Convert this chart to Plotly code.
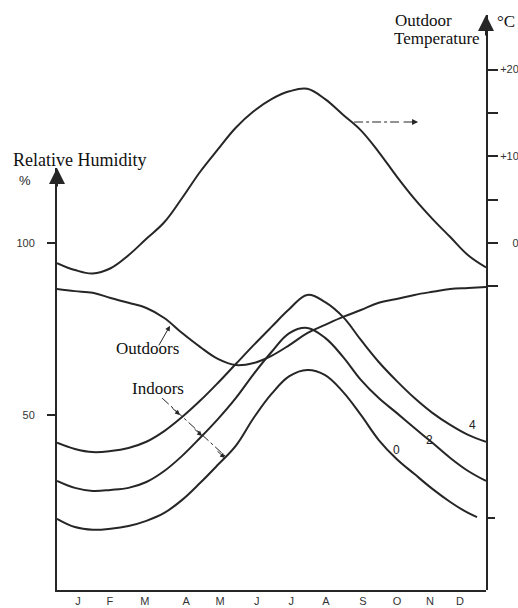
import plotly.graph_objects as go

# ---------------- data ----------------
month_labels = ["J", "F", "M", "A", "M", "J", "J", "A", "S", "O", "N", "D"]
month_pos = [0.59, 1.48, 2.46, 3.61, 4.56, 5.59, 6.55, 7.52, 8.56, 9.51, 10.43, 11.27]

x_half = [i * 0.5 for i in range(25)]  # 0 .. 12 months

temp_outdoor = [-2.3, -3.1, -3.5, -2.9, -1.4, 0.5, 2.4, 5.2, 8.2, 10.8, 13.3, 15.2, 16.6,
                17.5, 17.8, 16.6, 14.8, 13.0, 10.5, 7.7, 5.1, 2.8, 0.7, -1.4, -2.8]

rh_outdoors = [86.6, 86.0, 85.5, 84.0, 82.6, 81.1, 78.2, 73.8, 69.8, 66.3, 64.5, 65.1, 67.2,
               70.3, 73.8, 76.2, 78.5, 80.5, 82.6, 83.7, 84.9, 85.8, 86.6, 86.9, 87.2]

rh_indoor_4 = [41.9, 40.1, 39.2, 39.5, 40.4, 42.2, 45.3, 49.4, 54.1, 59.3, 64.8, 70.3, 75.6,
               80.8, 84.9, 82.8, 78.5, 71.8, 65.4, 59.9, 54.9, 50.6, 47.1, 44.2, 42.2]

rh_indoor_2 = [30.8, 28.8, 27.9, 28.2, 28.8, 30.5, 33.7, 38.1, 43.3, 48.8, 54.9, 61.9, 68.3,
               73.8, 75.3, 72.4, 66.9, 60.2, 54.9, 50.6, 46.2, 41.9, 37.5, 33.7, 30.8]

x_indoor_0 = [i * 0.5 for i in range(24)] + [11.75]
rh_indoor_0 = [19.8, 17.4, 16.6, 16.9, 17.7, 19.2, 21.5, 25.3, 30.2, 35.5, 41.0, 49.1, 56.1,
               61.3, 63.1, 61.6, 56.7, 50.0, 42.7, 37.2, 32.8, 28.5, 24.7, 21.5, 20.3]

rh_ticks = [50, 100]
temp_ticks = [20, 15, 10, 5, 0, -5]
temp_tick_text = ["+20", "", "+10", "", "\u2007\u20070", ""]

curve_labels = ["4", "2", "0"]

INK = "#262626"
SERIF = "Liberation Serif, Times New Roman, serif"
SANS = "Liberation Sans, Arial, sans-serif"
CLEAR = "rgba(0,0,0,0)"

fig = go.Figure()

line_style = dict(color=INK, width=2, shape="spline", smoothing=1.1)

fig.add_trace(go.Scatter(x=x_half, y=temp_outdoor, yaxis="y2", mode="lines",
                         line=line_style, hoverinfo="skip"))
fig.add_trace(go.Scatter(x=x_half, y=rh_outdoors, mode="lines", line=line_style, hoverinfo="skip"))
fig.add_trace(go.Scatter(x=x_half, y=rh_indoor_4, mode="lines", line=line_style, hoverinfo="skip"))
fig.add_trace(go.Scatter(x=x_half, y=rh_indoor_2, mode="lines", line=line_style, hoverinfo="skip"))
fig.add_trace(go.Scatter(x=x_indoor_0, y=rh_indoor_0, mode="lines", line=line_style, hoverinfo="skip"))

ann = []
# axis arrow heads
ann.append(dict(x=0, y=121.8, xref="x", yref="y", ax=0, ay=20, showarrow=True, text="",
                arrowhead=2, arrowsize=1.6, arrowwidth=2, arrowcolor=INK))
ann.append(dict(x=12, y=26.3, xref="x", yref="y2", ax=0, ay=22, showarrow=True, text="",
                arrowhead=2, arrowsize=1.6, arrowwidth=2, arrowcolor=INK))

# titles
ann.append(dict(text="Relative Humidity", x=-0.107, y=0.748, xref="paper", yref="paper",
                xanchor="left", yanchor="middle", showarrow=False,
                font=dict(family=SERIF, size=18, color="#111")))
ann.append(dict(text="%", x=-0.0746, y=0.713, xref="paper", yref="paper",
                xanchor="center", yanchor="middle", showarrow=False,
                font=dict(family=SANS, size=13, color="#222")))
ann.append(dict(text="Outdoor", x=0.783, y=0.991, xref="paper", yref="paper",
                xanchor="left", yanchor="middle", showarrow=False,
                font=dict(family=SERIF, size=17, color="#111")))
ann.append(dict(text="Temperature", x=0.781, y=0.96, xref="paper", yref="paper",
                xanchor="left", yanchor="middle", showarrow=False,
                font=dict(family=SERIF, size=17, color="#111")))
ann.append(dict(text="°C", x=1.022, y=0.988, xref="paper", yref="paper",
                xanchor="left", yanchor="middle", showarrow=False,
                font=dict(family=SERIF, size=17, color="#111")))

# in-plot labels
ann.append(dict(text="Outdoors", x=2.52, y=69.2, xref="x", yref="y", showarrow=False,
                font=dict(family=SERIF, size=17, color="#111")))
ann.append(dict(text="Indoors", x=2.83, y=57.8, xref="x", yref="y", showarrow=False,
                font=dict(family=SERIF, size=17, color="#111")))
ann.append(dict(x=3.16, y=75.9, xref="x", yref="y", ax=-12, ay=21, showarrow=True, text="",
                arrowhead=2, arrowsize=1, arrowwidth=1, arrowcolor=INK))
for xx, yy in [(3.44, 50.0), (4.06, 43.9), (4.70, 37.5)]:
    ann.append(dict(x=xx, y=yy, xref="x", yref="y", ax=-9, ay=-8, showarrow=True, text="",
                    arrowhead=2, arrowsize=1, arrowwidth=1, arrowcolor=INK))
ann.append(dict(x=10.10, y=13.96, xref="x", yref="y2", ax=-16, ay=0, showarrow=True, text="",
                arrowhead=2, arrowsize=1, arrowwidth=1.2, arrowcolor=INK))

for lab, xx, yy in zip(curve_labels, [11.61, 10.43, 9.51], [47.1, 42.7, 39.8]):
    ann.append(dict(text=lab, x=xx, y=yy, xref="x", yref="y", showarrow=False,
                    font=dict(family=SANS, size=12, color="#222")))

shapes = [
    dict(type="line", xref="x", yref="y2", x0=8.31, x1=9.59, y0=13.96, y1=13.96,
         line=dict(color=INK, width=1.2, dash="dashdot")),
    dict(type="line", xref="x", yref="y", x0=2.94, y0=54.9, x1=4.73, y1=37.8,
         line=dict(color=INK, width=1, dash="dashdot")),
]

fig.update_layout(
    width=518, height=608, template="none",
    margin=dict(l=57, r=32, t=15, b=18, pad=0),
    paper_bgcolor="white", plot_bgcolor=CLEAR,
    showlegend=False,
    annotations=ann, shapes=shapes,
    xaxis=dict(range=[0, 12], domain=[0, 1], anchor="y", showgrid=False, zeroline=False,
               showline=True, linecolor=INK, linewidth=2, ticks="",
               tickvals=month_pos, ticktext=month_labels, automargin=False,
               tickfont=dict(family=SANS, size=11, color="#333")),
    yaxis=dict(range=[-0.9, 121.8], domain=[0, 0.7339], anchor="x", side="left",
               showgrid=False, zeroline=False, showline=True, linecolor=INK, linewidth=2,
               ticks="outside", ticklen=8, tickwidth=1.5, tickcolor=INK,
               tickvals=rh_ticks, ticktext=[str(v) for v in rh_ticks],
               ticklabelstandoff=10, automargin=False,
               tickfont=dict(family=SANS, size=11, color="#333")),
    yaxis2=dict(range=[-40.0, 26.3], domain=[0, 1], anchor="x", side="right",
                showgrid=False, zeroline=False, showline=True, linecolor=INK, linewidth=2,
                ticks="outside", ticklen=10, tickwidth=1.5, tickcolor=INK,
                tickvals=temp_ticks, ticktext=temp_tick_text, automargin=False,
                tickfont=dict(family=SANS, size=11, color="#333")),
    yaxis3=dict(range=[-0.9, 121.8], domain=[0, 0.7339], anchor="x", side="right",
                showgrid=False, zeroline=False, showline=False,
                ticks="outside", ticklen=8, tickwidth=1.5, tickcolor=INK,
                tickvals=[20], showticklabels=False, automargin=False),
)
# invisible trace so the 20 % tick axis is rendered
fig.add_trace(go.Scatter(x=[0], y=[20], yaxis="y3", mode="markers",
                         marker=dict(opacity=0), hoverinfo="skip"))

fig.write_html("out.html", config={"displayModeBar": False},
               post_script="document.body.style.margin='0';document.body.style.padding='0';")
